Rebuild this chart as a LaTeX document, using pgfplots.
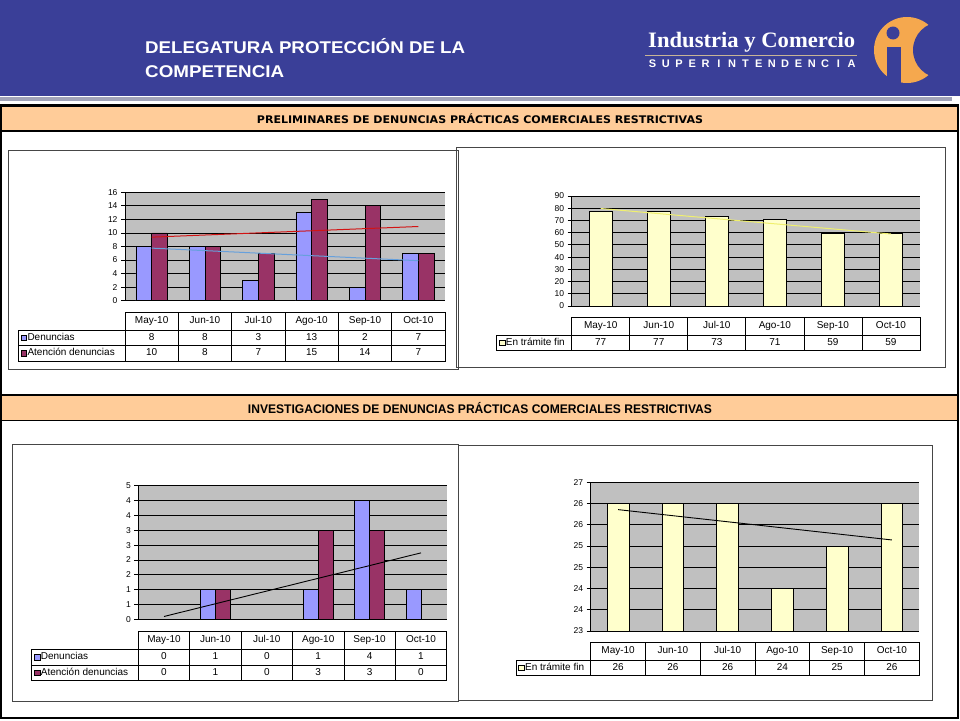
\documentclass[border=0pt]{standalone}
\usepackage{graphicx}
\usepackage{pgfplots}
\pgfplotsset{compat=1.18}
\usepackage{fontspec}
\setmainfont{Liberation Sans}
\newfontfamily\serifb{Liberation Serif}
\newfontfamily\dejab{DejaVu Sans}

\definecolor{banner}{RGB}{58,63,152}
\definecolor{strip}{RGB}{160,162,184}
\definecolor{band}{RGB}{255,204,153}
\definecolor{plotbg}{RGB}{192,192,192}
\definecolor{denun}{RGB}{153,153,255}
\definecolor{atenc}{RGB}{153,51,102}
\definecolor{tram}{RGB}{255,255,204}
\definecolor{trblue}{RGB}{102,160,220}
\definecolor{trred}{RGB}{210,20,20}
\definecolor{tryel}{RGB}{240,240,110}
\definecolor{logoor}{RGB}{245,168,78}
\definecolor{tanline}{RGB}{200,180,150}
\definecolor{boxgray}{RGB}{70,70,70}

\pgfplotsset{
  slidechart/.style={
    scale only axis, anchor=north west,
    xmin=-0.5, xmax=5.5, xtick=\empty,
    axis lines*=left,
    axis line style={black, line width=0.8pt},
    axis background/.style={fill=plotbg},
    ymajorgrids, major grid style={black, line width=0.8pt},
    tick align=outside, major tick length=4pt,
    ytick style={black, line width=0.8pt},
    tick label style={font=\fontsize{8.5}{9}\selectfont},
    /pgf/number format/assume math mode=true,
    clip=true,
  },
}

\tikzset{
  tabline/.style={draw=black, line width=0.8pt},
  tabtext/.style={inner sep=0pt, font=\fontsize{10}{11}\selectfont, text height=7pt, text depth=2pt},
}

\newcommand{\headrow}[4]{%
  \foreach \lab [count=\i from 0] in {May-10,Jun-10,Jul-10,Ago-10,Sep-10,Oct-10}{
    \draw[tabline] ({#1+\i*#2},{-#3}) rectangle ({#1+(\i+1)*#2},{-#4});
    \node[tabtext] at ({#1+(\i+0.5)*#2},{-(#3+#4)/2}) {\lab};
  }}
\newcommand{\datarow}[8]{%
  \draw[tabline] (#1,{-#4}) rectangle (#2,{-#5});
  \filldraw[fill=#6, draw=black, line width=0.6pt] ({#1+2.5},{-(#4+#5)/2-2.8}) rectangle ++(5.6,5.6);
  \node[tabtext, anchor=west] at ({#1+9},{-(#4+#5)/2}) {#7};
  \foreach \v [count=\i from 0] in {#8}{
    \draw[tabline] ({#2+\i*#3},{-#4}) rectangle ({#2+(\i+1)*#3},{-#5});
    \node[tabtext] at ({#2+(\i+0.5)*#3},{-(#4+#5)/2}) {\v};
  }}

\begin{document}
\begin{tikzpicture}[x=1pt,y=1pt]
\useasboundingbox (0,0) rectangle (960,-720);
\fill[white] (0,0) rectangle (960,-720);
% banner
\fill[banner] (0,0) rectangle (960,-96);
\fill[strip] (0,-96.5) rectangle (952,-101);
\node[anchor=base west, inner sep=0, text=white] at (145,-53)
  {\resizebox{320pt}{\height}{\fontsize{17}{20}\selectfont\bfseries DELEGATURA PROTECCIÓN DE LA}};
\node[anchor=base west, inner sep=0, text=white] at (145,-77)
  {\resizebox{139pt}{\height}{\fontsize{17}{20}\selectfont\bfseries COMPETENCIA}};
\node[anchor=base west, inner sep=0, text=white] at (648,-47)
  {\resizebox{207pt}{\height}{\fontsize{22}{24}\selectfont\serifb\bfseries Industria y Comercio}};
\draw[tanline, line width=1.5pt] (645,-55.5) -- (857,-55.5);
\foreach \c [count=\i from 0] in {S,U,P,E,R,I,N,T,E,N,D,E,N,C,I,A}{
  \node[anchor=base, inner sep=0, text=white, font=\fontsize{11}{12}\selectfont\bfseries] at ({652.5+\i*13.27},-67.5) {\c};
}
% logo
\fill[logoor] (907,-50) circle (33);
\fill[banner] (941,-50) circle (28);
\fill[banner] (893,-33) circle (6.5);
\fill[banner] (887,-47) rectangle (901,-86);
\fill[banner] (860,-86) rectangle (960,-96);

% sections
\draw[black, line width=1.2pt] (1,-105) rectangle (958,-395);
\filldraw[fill=band, draw=black, line width=1.2pt] (1,-106) rectangle (958,-131);
\node[anchor=base, inner sep=0] at (480,-123)
  {\resizebox{446pt}{\height}{\fontsize{10.5}{12}\selectfont\dejab\bfseries PRELIMINARES DE DENUNCIAS PRÁCTICAS COMERCIALES RESTRICTIVAS}};
\draw[black, line width=1.2pt] (1,-395) rectangle (958,-718);
\filldraw[fill=band, draw=black, line width=1.2pt] (1,-395.5) rectangle (958,-420.5);
\node[anchor=base, inner sep=0] at (480,-413)
  {\resizebox{464pt}{\height}{\fontsize{12.5}{14}\selectfont\bfseries INVESTIGACIONES DE DENUNCIAS PRÁCTICAS COMERCIALES RESTRICTIVAS}};

% chart boxes
\draw[boxgray, line width=0.9pt] (8.3,-150) rectangle (458,-369);
\draw[boxgray, line width=0.9pt] (456.7,-147.3) rectangle (945,-367.7);
\draw[boxgray, line width=0.9pt] (12.7,-444) rectangle (458.3,-701);
\draw[boxgray, line width=0.9pt] (458.3,-445) rectangle (932.3,-700.7);

% chart A
\begin{axis}[slidechart, at={(125pt,-192.3pt)}, width=320pt, height=108.4pt,
  ymin=0, ymax=16, ytick={0,2,4,6,8,10,12,14,16}]
\addplot[ybar, bar width=15.7pt, bar shift=-7.85pt, fill=denun, draw=black, line width=0.8pt]
  coordinates {(0,8) (1,8) (2,3) (3,13) (4,2) (5,7)};
\addplot[ybar, bar width=15.7pt, bar shift=7.85pt, fill=atenc, draw=black, line width=0.8pt]
  coordinates {(0,10) (1,8) (2,7) (3,15) (4,14) (5,7)};
\addplot[trblue, line width=1pt, mark=none, sharp plot] coordinates {(0,7.762) (5,5.905)};
\addplot[trred, line width=1pt, mark=none, sharp plot] coordinates {(0,9.381) (5,10.952)};
\end{axis}

% chart B
\begin{axis}[slidechart, at={(571.7pt,-196pt)}, width=348.3pt, height=110pt,
  ymin=0, ymax=90, ytick={0,10,20,30,40,50,60,70,80,90}]
\addplot[ybar, bar width=23.3pt, bar shift=0pt, fill=tram, draw=black, line width=0.8pt]
  coordinates {(0,77) (1,77) (2,73) (3,71) (4,59) (5,59)};
\addplot[tryel, line width=1pt, mark=none, sharp plot] coordinates {(0,79.76) (5,58.90)};
\end{axis}

% chart C
\begin{axis}[slidechart, at={(138.3pt,-485.7pt)}, width=308.4pt, height=133.6pt,
  ymin=0, ymax=4.5, ytick={0,0.5,1,1.5,2,2.5,3,3.5,4,4.5},
  yticklabels={0,1,1,2,2,3,3,4,4,5}]
\addplot[ybar, bar width=15pt, bar shift=-7.5pt, fill=denun, draw=black, line width=0.8pt]
  coordinates {(0,0) (1,1) (2,0) (3,1) (4,4) (5,1)};
\addplot[ybar, bar width=15pt, bar shift=7.5pt, fill=atenc, draw=black, line width=0.8pt]
  coordinates {(0,0) (1,1) (2,0) (3,3) (4,3) (5,0)};
\addplot[black, line width=0.9pt, mark=none, sharp plot] coordinates {(0,0.095) (5,2.238)};
\end{axis}

% chart D
\begin{axis}[slidechart, at={(590.7pt,-482.3pt)}, width=328.6pt, height=148.7pt,
  ymin=23, ymax=26.5, ytick={23,23.5,24,24.5,25,25.5,26,26.5},
  yticklabels={23,24,24,25,25,26,26,27}]
\addplot[ybar, bar width=21.7pt, bar shift=0pt, fill=tram, draw=black, line width=0.8pt]
  coordinates {(0,26) (1,26) (2,26) (3,24) (4,25) (5,26)};
\addplot[black, line width=0.9pt, mark=none, sharp plot] coordinates {(0,25.857) (5,25.143)};
\end{axis}

% tables
\headrow{125}{53.33}{312.3}{330}
\datarow{18.3}{125}{53.33}{330}{345.7}{denun}{Denuncias}{8,8,3,13,2,7}
\datarow{18.3}{125}{53.33}{345.7}{361}{atenc}{Atención denuncias}{10,8,7,15,14,7}

\headrow{571.7}{58.05}{317.3}{335}
\datarow{496.7}{571.7}{58.05}{335}{350.7}{tram}{En trámite fin}{77,77,73,71,59,59}

\headrow{138.3}{51.4}{631}{649}
\datarow{31.7}{138.3}{51.4}{649}{665}{denun}{Denuncias}{0,1,0,1,4,1}
\datarow{31.7}{138.3}{51.4}{665}{680.7}{atenc}{Atención denuncias}{0,1,0,3,3,0}

\headrow{590.7}{54.77}{642.7}{660}
\datarow{516}{590.7}{54.77}{660}{675.7}{tram}{En trámite fin}{26,26,26,24,25,26}
\end{tikzpicture}
\end{document}
